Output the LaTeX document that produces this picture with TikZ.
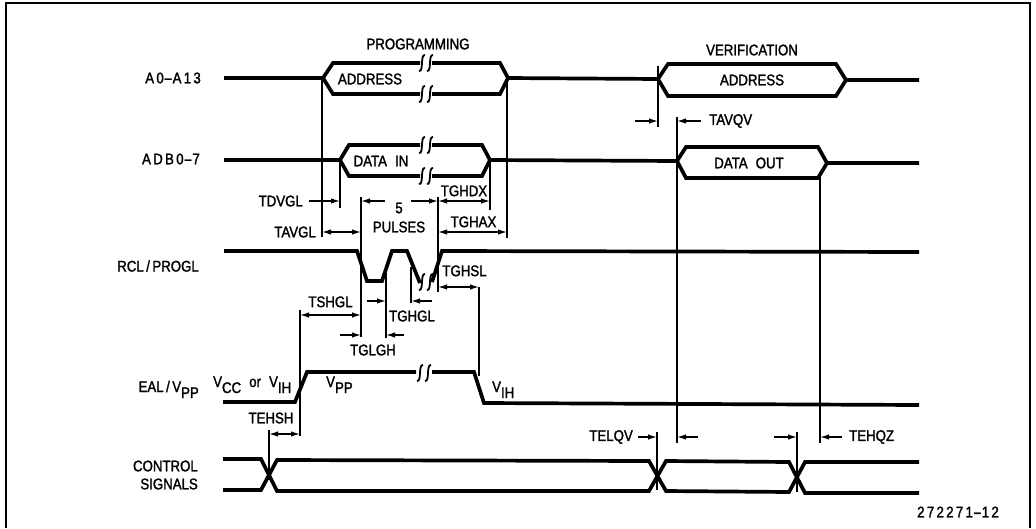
\documentclass[tikz,border=0pt]{standalone}
\usepackage{fontspec}
\setmainfont{Liberation Sans}[FakeBold=1.6, FakeStretch=0.86, WordSpace=2.2]
\newfontfamily\widefont{Liberation Sans}[FakeBold=1.6, FakeStretch=0.86, LetterSpace=15]
\usetikzlibrary{arrows.meta}
\newcommand{\lowtxt}[1]{\raisebox{-6pt}{#1}}
\newcommand{\longdash}{\scalebox{2}[1]{-}}
\newcommand{\wideslash}{\kern2.5pt/\kern2.5pt}
\tikzset{
  wave/.style={line width=3.7pt},
  guide/.style={line width=1.5pt},
  dim/.style={line width=1.4pt, >={Latex[length=9pt,width=5.5pt]}},
  lbl/.style={inner sep=0pt, font=\fontsize{15.4}{17}\selectfont},
  wide/.style={inner sep=0pt, font=\fontsize{15.4}{17}\selectfont\widefont},
  pics/brk/.style={code={
    \draw[line width=1.8pt] (-1,-8) .. controls (-6,-9) and (-2,9) .. (-7,8);
    \draw[line width=1.8pt] (7,-8) .. controls (2,-9) and (6,9) .. (1,8);
  }}
}
\begin{document}
\begin{tikzpicture}[x=1pt, y=-1pt]
  \useasboundingbox (0,0) rectangle (1036,528);
  \draw[line width=2pt] (6,528) -- (6,2.5) -- (1030,2.5) -- (1030,528);
  % signal names
  \node(a0)[wide, anchor=east] at (201,78) {A0\longdash A13};
  \node(adb)[wide, anchor=east] at (200,159) {ADB0\longdash 7};
  \node(rcl)[lbl, anchor=east] at (199,266) {RCL\wideslash PROGL};
  \node(eal)[lbl, anchor=base east] at (199,392) {EAL\wideslash V\lowtxt{PP}};
  \node(ctl1)[lbl, anchor=east] at (198,466) {CONTROL};
  \node(ctl2)[lbl, anchor=east] at (198,484) {SIGNALS};
  \node(prog)[lbl] at (418,44) {PROGRAMMING};
  \node(veri)[lbl] at (752,50) {VERIFICATION};
  % address and data
  \draw[wave] (224,78) -- (323,78) -- (333,63) -- (420,63);
  \draw[wave] (432,63) -- (500,63) -- (508,78) -- (658,79) -- (668,64) -- (836,64) -- (846,80) -- (919,80);
  \draw[wave] (323,78) -- (333,94) -- (420,94);
  \draw[wave] (432,94) -- (500,94) -- (508,78);
  \draw[wave] (658,79) -- (668,96) -- (836,96) -- (846,80);
  \pic at (426,63) {brk};
  \pic at (426,94) {brk};
  \draw[wave] (224,160) -- (340,160) -- (349,145) -- (420,145);
  \draw[wave] (432,145) -- (482,145) -- (490,160) -- (677,161) -- (686,147) -- (818,147) -- (827,163) -- (919,163);
  \draw[wave] (340,160) -- (349,176) -- (420,176);
  \draw[wave] (432,176) -- (482,176) -- (490,160);
  \draw[wave] (677,161) -- (686,178) -- (818,178) -- (827,163);
  \pic at (426,145) {brk};
  \pic at (426,176) {brk};
  \node(addr1)[lbl] at (370,79) {ADDRESS};
  \node(addr2)[lbl] at (752,80) {ADDRESS};
  \node(din)[lbl] at (381,161) {DATA IN};
  \node(dout)[lbl] at (749,163) {DATA OUT};
  % program pulses
  \draw[wave] (224,251) -- (357,251) -- (367,281) -- (382,281) -- (392,251) -- (407,251) -- (420,283);
  \draw[wave] (432,282) -- (442,251) -- (919,252);
  \pic at (426,282) {brk};
  % vpp
  \draw[wave] (223,402) -- (295,402) -- (307,372) -- (416,372);
  \draw[wave] (432,372) -- (474,372) -- (484,403) -- (919,405);
  \pic at (424,373) {brk};
  \node(vcc)[lbl, anchor=base west] at (213,387) {V\lowtxt{CC} or V\lowtxt{IH}};
  \node(vpp)[lbl, anchor=base west] at (326,387) {V\lowtxt{PP}};
  \node(vih)[lbl, anchor=base west] at (492,392) {V\lowtxt{IH}};
  % control
  \draw[wave] (223,459) -- (261,459) -- (277,491) -- (649,491) -- (666,461) -- (789,462) -- (805,493) -- (919,493);
  \draw[wave] (223,490) -- (261,490) -- (277,460) -- (649,461) -- (666,491) -- (789,492) -- (805,462) -- (919,462);
  % guides
  \draw[guide] (322,78) -- (322,237);
  \draw[guide] (340,160) -- (340,208);
  \draw[guide] (507,78) -- (507,238);
  \draw[guide] (490,160) -- (490,210);
  \draw[guide] (361,197) -- (361,337);
  \draw[guide] (438,197) -- (438,292);
  \draw[guide] (386,273) -- (386,338);
  \draw[guide] (411,267) -- (411,303);
  \draw[guide] (479,287) -- (479,376);
  \draw[guide] (300,310) -- (300,436);
  \draw[guide] (269,430) -- (269,480);
  \draw[guide] (657,432) -- (657,490);
  \draw[guide] (797,432) -- (797,492);
  \draw[guide] (658,66) -- (658,127);
  \draw[guide] (677,117) -- (677,443);
  \draw[guide] (820,177) -- (820,443);
  % timing
  \node(tdvgl)[lbl, anchor=east] at (303,201) {TDVGL};
  \draw[dim, ->] (309,201) -- (340,201);
  \node(tavgl)[lbl, anchor=east] at (316,232) {TAVGL};
  \draw[dim, <->] (322,232) -- (361,232);
  \draw[dim, ->] (385,201) -- (361,201);
  \draw[dim, ->] (411,201) -- (438,201);
  \node(five)[lbl] at (399,208) {5};
  \node(puls)[lbl] at (399,227) {PULSES};
  \draw[dim, <->] (438,201) -- (490,201) node[midway, lbl, above=4pt] (tghdx) {TGHDX};
  \draw[dim, <->] (438,232) -- (507,232) node[midway, lbl, above=4pt, xshift=1pt] (tghax) {TGHAX};
  \draw[dim, <->] (438,287) -- (479,287) node[midway, lbl, above=10pt, xshift=6pt] (tghsl) {TGHSL};
  \draw[dim, <->] (300,315) -- (361,315) node[midway, lbl, above=7pt] (tshgl) {TSHGL};
  \draw[dim, ->] (367,301) -- (386,301);
  \draw[dim, ->] (432,301) -- (411,301);
  \node(tghgl)[lbl] at (412,316) {TGHGL};
  \draw[dim, ->] (340,335) -- (361,335);
  \draw[dim, ->] (404,335) -- (386,335);
  \node(tglgh)[lbl] at (373,350) {TGLGH};
  \draw[dim, <->] (269,434) -- (300,434);
  \node(tehsh)[lbl] at (271,418) {TEHSH};
  \draw[dim, ->] (635,121) -- (658,121);
  \draw[dim, ->] (701,121) -- (677,121);
  \node(tavqv)[lbl, anchor=west] at (709,121) {TAVQV};
  \node(telqv)[lbl, anchor=east] at (633,437) {TELQV};
  \draw[dim, ->] (638,437) -- (657,437);
  \draw[dim, ->] (698,437) -- (677,437);
  \draw[dim, ->] (774,437) -- (797,437);
  \draw[dim, ->] (842,437) -- (820,437);
  \node(tehqz)[lbl, anchor=west] at (849,437) {TEHQZ};
  \node(fig)[wide, anchor=west] at (917,512) {272271\longdash 12};
\end{tikzpicture}
\end{document}
